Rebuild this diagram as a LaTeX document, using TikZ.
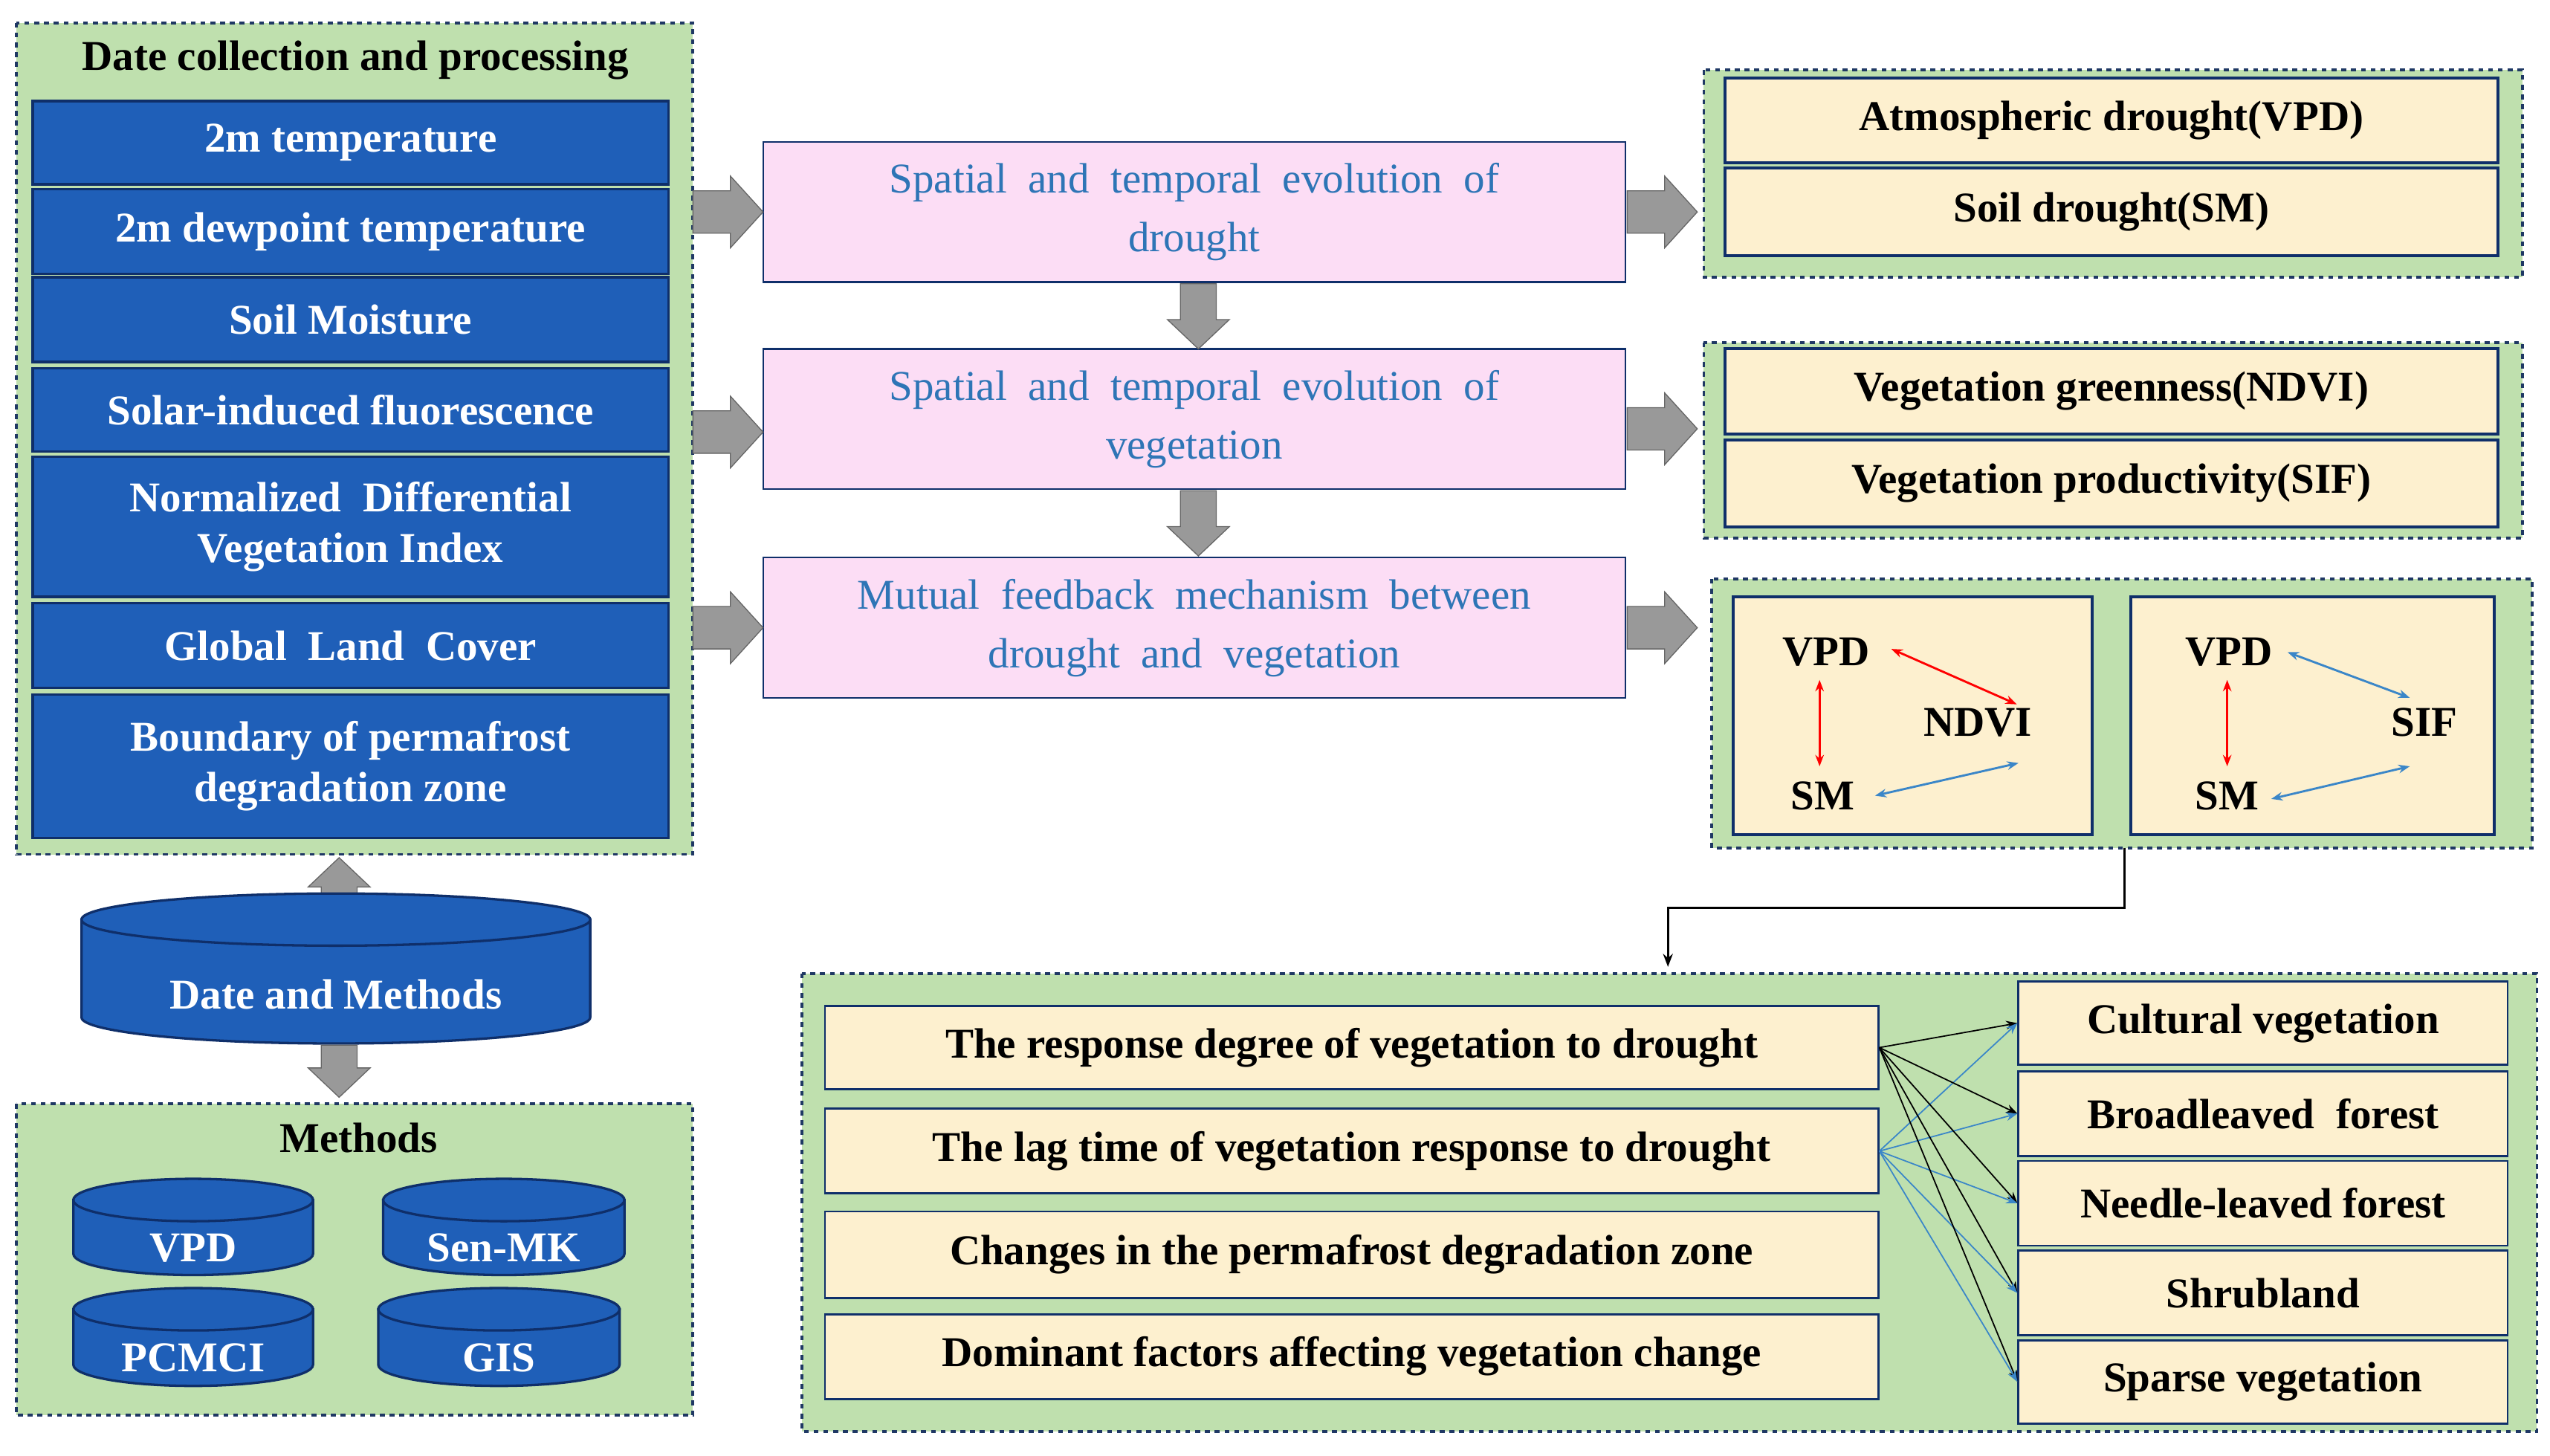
\documentclass[tikz,border=0pt]{standalone}
\usepackage{fontspec}
\setmainfont{Liberation Serif}
\usetikzlibrary{arrows.meta}
\definecolor{pgreen}{HTML}{BFE0AE}
\definecolor{pborder}{HTML}{1F3864}
\definecolor{bbox}{HTML}{1F5FB8}
\definecolor{bline}{HTML}{0F2F6A}
\definecolor{pinkf}{HTML}{FCDDF5}
\definecolor{ptext}{HTML}{2E75B6}
\definecolor{cream}{HTML}{FDF0CF}
\definecolor{garrc}{HTML}{999999}
\definecolor{lblue}{HTML}{3A86C8}
\tikzset{
 panel/.style={draw=pborder,dashed,line width=1.8pt,fill=pgreen},
 bluebox/.style={draw=bline,line width=1.5pt,fill=bbox,text=white,font=\fontsize{26}{31}\selectfont\bfseries,align=center,inner sep=0},
 pinkbox/.style={draw=bline,line width=1pt,fill=pinkf,text=ptext,font=\fontsize{26}{36}\selectfont,align=center,inner sep=0},
 creambox/.style={draw=bline,line width=1.8pt,fill=cream,font=\fontsize{26}{31}\selectfont\bfseries,align=center,inner sep=0},
 garr/.style={fill=garrc,draw=gray!80!black,line width=0.6pt},
 cylf/.style={fill=bbox,draw=bline,line width=1.5pt},
 lab/.style={font=\fontsize{26}{31}\selectfont\bfseries},
 red2/.style={{Stealth[length=7pt]}-{Stealth[length=7pt]},red,line width=1.3pt},
 blue2/.style={{Stealth[length=7pt]}-{Stealth[length=7pt]},lblue,line width=1.3pt},
}
\newcommand\rarr[2]{\draw[garr] (#1,#2) ++(0,-13) -- ++(23,0) -- ++(0,-9) -- ++(20,22) -- ++(-20,22) -- ++(0,-9) -- ++(-23,0) -- cycle;}
\newcommand\darr[3]{\draw[garr] (#1,#2) ++(-11,0) -- ++(0,#3-18) -- ++(-8,0) -- ++(19,18) -- ++(19,-18) -- ++(-8,0) -- ++(0,18-#3) -- cycle;}
\newcommand\uarr[3]{\draw[garr] (#1,#2) ++(-11,0) -- ++(0,18-#3) -- ++(-8,0) -- ++(19,-18) -- ++(19,18) -- ++(-8,0) -- ++(0,#3-18) -- cycle;}
\newcommand\cyl[7]{% name x1 y1 x2 y2 ry text
 \pgfmathsetmacro\rx{(#4-#2)/2}\pgfmathsetmacro\xc{(#2+#4)/2}
 \path[cylf] (#2,#3+#6) -- (#2,#5-#6) arc[start angle=180,end angle=0,x radius=\rx,y radius=#6] -- (#4,#3+#6) -- cycle;
 \draw[cylf] (\xc,#3+#6) ellipse[x radius=\rx,y radius=#6];
 \node[text=white,lab] (#1) at (\xc,{(#3+2*#6+#5)/2}) {#7};}
\begin{document}
\begin{tikzpicture}[x=1pt,y=-1pt]
\useasboundingbox (0,0) rectangle (1564,893);
% left panel
\draw[panel] (10,14) rectangle (425,524);
\node[lab] (t1) at (218,37) {Date collection and processing};
\node[bluebox,minimum width=390,minimum height=51] (b1) at (215,87.5) {2m temperature};
\node[bluebox,minimum width=390,minimum height=52] (b2) at (215,142) {2m dewpoint temperature};
\node[bluebox,minimum width=390,minimum height=52] (b3) at (215,196) {Soil Moisture};
\node[bluebox,minimum width=390,minimum height=51] (b4) at (215,251.5) {Solar-induced fluorescence};
\node[bluebox,minimum width=390,minimum height=86] (b5) at (215,323) {Normalized\ \ Differential\\Vegetation Index};
\node[bluebox,minimum width=390,minimum height=52] (b6) at (215,396) {Global\ \ Land\ \ Cover};
\node[bluebox,minimum width=390,minimum height=88] (b7) at (215,470) {Boundary of permafrost\\degradation zone};
% date and methods
\uarr{208}{553}{27}
\cyl{dm}{50}{548}{362}{640}{16}{Date and Methods}
\darr{208}{641}{32}
\draw[panel] (10,677) rectangle (425,868);
\node[lab] (mt) at (220,698) {Methods};
\cyl{c1}{45}{723}{192}{782}{13}{VPD}
\cyl{c2}{235}{723}{383}{782}{13}{Sen-MK}
\cyl{c3}{45}{790}{192}{850}{13}{PCMCI}
\cyl{c4}{232}{790}{380}{850}{13}{GIS}
% pink
\node[pinkbox,minimum width=529,minimum height=86] (p1) at (732.5,130) {Spatial\ \ and\ \ temporal\ \ evolution\ \ of\\drought};
\node[pinkbox,minimum width=529,minimum height=86] (p2) at (732.5,257) {Spatial\ \ and\ \ temporal\ \ evolution\ \ of\\vegetation};
\node[pinkbox,minimum width=529,minimum height=86] (p3) at (732.5,385) {Mutual\ \ feedback\ \ mechanism\ \ between\\drought\ \ and\ \ vegetation};
\rarr{425}{130}\rarr{425}{265}\rarr{425}{385}
\darr{735}{174}{40}\darr{735}{301}{40}
\rarr{998}{130}\rarr{998}{263}\rarr{998}{385}
% right panels
\draw[panel] (1045,43) rectangle (1547,170);
\node[creambox,minimum width=474,minimum height=52] (a1) at (1295,74) {Atmospheric drought(VPD)};
\node[creambox,minimum width=474,minimum height=54] (a2) at (1295,130) {Soil drought(SM)};
\draw[panel] (1045,210) rectangle (1547,330);
\node[creambox,minimum width=474,minimum height=52] (v1) at (1295,240) {Vegetation greenness(NDVI)};
\node[creambox,minimum width=474,minimum height=53] (v2) at (1295,296.5) {Vegetation productivity(SIF)};
\draw[panel] (1050,355) rectangle (1553,520);
\node[creambox,minimum width=220,minimum height=146] (f1) at (1173,439) {};
\node[creambox,minimum width=223,minimum height=146] (f2) at (1418.5,439) {};
\node[lab] (vpd1) at (1120,400) {VPD};
\node[lab] (ndvi) at (1213,443) {NDVI};
\node[lab] (sm1) at (1118,488) {SM};
\node[lab] (vpd2) at (1367,400) {VPD};
\node[lab] (sif) at (1487,443) {SIF};
\node[lab] (sm2) at (1366,488) {SM};
\draw[red2] (1160,398) -- (1237,432);
\draw[red2] (1116,417) -- (1116,470);
\draw[blue2] (1150,488) -- (1238,468);
\draw[blue2] (1403,400) -- (1478,428);
\draw[red2] (1366,417) -- (1366,470);
\draw[blue2] (1393,490) -- (1478,470);
% connector
\coordinate (k1) at (1303,557);
\draw[-{Stealth[length=8pt]},line width=1.3pt] (1303,520) -- (k1) -- (1023,557) -- (1023,593);
% bottom panel
\draw[panel] (492,597) rectangle (1556,878);
\node[creambox,minimum width=646,minimum height=51,line width=1.3pt] (l1) at (829,642.5) {The\ response\ degree\ of\ vegetation\ to\ drought};
\node[creambox,minimum width=646,minimum height=52,line width=1.3pt] (l2) at (829,706) {The\ lag\ time\ of\ vegetation\ response\ to\ drought};
\node[creambox,minimum width=646,minimum height=53,line width=1.3pt] (l3) at (829,769.5) {Changes\ in\ the\ permafrost\ degradation\ zone};
\node[creambox,minimum width=646,minimum height=52,line width=1.3pt] (l4) at (829,832) {Dominant\ factors\ affecting\ vegetation\ change};
\node[creambox,minimum width=300,minimum height=51,line width=1.3pt] (r1) at (1388,627.5) {Cultural vegetation};
\node[creambox,minimum width=300,minimum height=52,line width=1.3pt] (r2) at (1388,683) {Broadleaved\ \ forest};
\node[creambox,minimum width=300,minimum height=52,line width=1.3pt] (r3) at (1388,738) {Needle-leaved forest};
\node[creambox,minimum width=300,minimum height=52,line width=1.3pt] (r4) at (1388,793) {Shrubland};
\node[creambox,minimum width=300,minimum height=51,line width=1.3pt] (r5) at (1388,847.5) {Sparse vegetation};
\foreach \r in {r1,r2,r3,r4,r5}{
 \draw[-{Stealth[length=7pt]},line width=0.8pt] (l1.east) -- (\r.west);
 \draw[-{Stealth[length=7pt]},line width=0.8pt,lblue] (l2.east) -- (\r.west);
}
\end{tikzpicture}
\end{document}
